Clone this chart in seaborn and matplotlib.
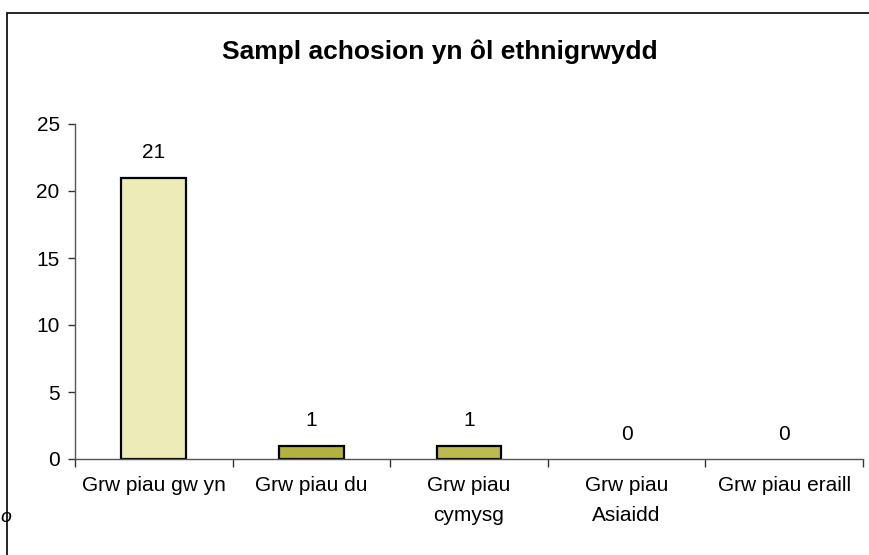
import numpy as np
import pandas as pd
import matplotlib
matplotlib.use("Agg")
import matplotlib.pyplot as plt
import seaborn as sns
from matplotlib.patches import Rectangle

categories = ["Grw piau gw yn", "Grw piau du", "Grw piau\ncymysg", "Grw piau\nAsiaidd", "Grw piau eraill"]
counts = [21, 1, 1, 0, 0]
bar_colors = ["#ececb8", "#b2b23c", "#bcbc4e", "#bcbc4e", "#bcbc4e"]
title = "Sampl achosion yn ôl ethnigrwydd"

sns.set_style("white")
plt.rcParams["font.family"] = ["Liberation Sans", "DejaVu Sans"]
plt.rcParams["text.color"] = "black"
plt.rcParams["xtick.labelcolor"] = "black"
plt.rcParams["ytick.labelcolor"] = "black"

df = pd.DataFrame({"grwp": categories, "nifer": counts})

fig = plt.figure(figsize=(8.69, 5.55), dpi=100)
ax = fig.add_axes([75 / 869, 1 - 459 / 555, (863 - 75) / 869, (459 - 124) / 555])

sns.barplot(data=df, x="grwp", y="nifer", hue="grwp", palette=bar_colors,
            saturation=1, legend=False, width=0.41, edgecolor="black",
            linewidth=1.6, ax=ax)

# no outline for empty bars
for p, v in zip(ax.patches, counts):
    if v == 0:
        p.set_linewidth(0)

for i, v in enumerate(counts):
    ax.annotate(str(v), (i, v), xytext=(0, 11), textcoords="offset points",
                ha="center", va="bottom", fontsize=15)

ax.set_ylim(0, 25)
ax.set_xlim(-0.5, 4.5)
ax.set_yticks(np.arange(0, 26, 5))
ax.set_xlabel("")
ax.set_ylabel("")
ax.set_xticks(np.arange(-0.5, 5, 1), minor=True)
ax.tick_params(axis="x", which="major", length=0, labelsize=15, pad=12)
ax.tick_params(axis="x", which="minor", length=6, width=1, color="#333333", direction="out", bottom=True)
ax.tick_params(axis="y", length=5, width=1, color="#333333", direction="out", left=True, labelsize=15, pad=6)
for lbl in ax.get_xticklabels():
    lbl.set_linespacing(1.75)
for s in ["top", "right"]:
    ax.spines[s].set_visible(False)
for s in ["left", "bottom"]:
    ax.spines[s].set_color("#555555")
    ax.spines[s].set_linewidth(1)

fig.text(440 / 869, 1 - 52 / 555, title, ha="center", va="center",
         fontsize=19, fontweight="bold")

# outer chart frame (cut off at right and bottom)
fig.patches.append(Rectangle((7 / 869, -0.1), 1.0, 1 - 13 / 555 + 0.1,
                             transform=fig.transFigure, fill=False,
                             edgecolor="black", linewidth=1.2))
fig.text(0.0, 1 - 518 / 555, "o", fontsize=14, style="italic", va="center", ha="left")

fig.savefig("out.png", dpi=100)
